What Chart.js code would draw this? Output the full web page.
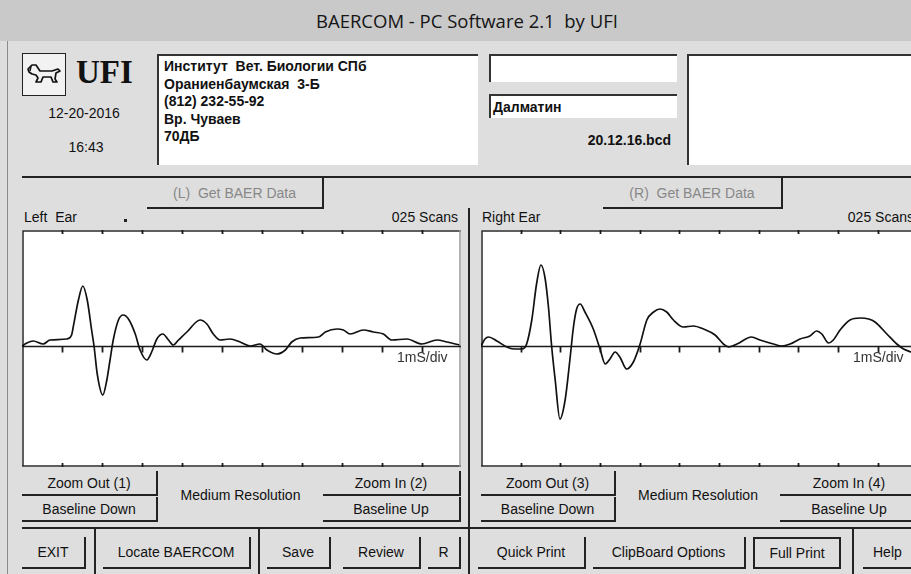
<!DOCTYPE html>
<html>
<head>
<meta charset="utf-8">
<script src="https://cdn.jsdelivr.net/npm/chart.js@4.4.1/dist/chart.umd.min.js"></script>
<style>
  body { margin: 0; width: 911px; height: 574px; overflow: hidden; position: relative;
         background: #dedede; font-family: "Liberation Sans", Arial, sans-serif; color: #111; }
  .abs { position: absolute; }
  .title { left: 0; top: 0; width: 911px; height: 41px; background: #c9c9c9; }
  .title span { position: absolute; left: 316px; top: 8px; font: 18.5px "Open Sans", sans-serif; color: #151515; white-space: nowrap; }
  .box { position: absolute; background: #fff; border-top: 2px solid #333; border-left: 2px solid #333; box-sizing: border-box; }
  .hline { position: absolute; height: 2px; background: #222; }
  .vline { position: absolute; width: 2px; background: #222; }
  .btn { position: absolute; box-sizing: border-box; border-right: 2px solid #222; border-bottom: 2px solid #222;
         display: flex; align-items: center; justify-content: center; font-size: 14px; white-space: nowrap; }
  .txt { position: absolute; font-size: 14px; white-space: nowrap; }
  .info { position: absolute; left: 164px; top: 58px; font-weight: bold; font-size: 14px; line-height: 17.5px; }
  canvas { position: absolute; }
</style>
</head>
<body>
<div class="abs title"><span>BAERCOM - PC Software 2.1&nbsp; by UFI</span></div>
<div class="vline" style="left:7px;top:41px;height:533px;width:1px;background:#8a8a8a"></div>

<!-- header -->
<div class="abs" style="left:22px;top:53px;width:42px;height:41px;border:1px solid #222;background:#f2f2f2">
  <svg width="42" height="41" viewBox="0 0 42 41">
    <path d="M5 15 L9 11 L13 11 L15 14 L17 17 L29 17 L35 15 L37 17 L33 19 L32 25 L34 28 L30 28 L28 23 L20 23 L18 28 L13 28 L15 24 L13 21 L9 20 L6 18 Z"
          fill="none" stroke="#111" stroke-width="1.7" stroke-linejoin="round"/>
    <path d="M8 12 L7 17" stroke="#111" stroke-width="1.5"/>
  </svg>
</div>
<div class="txt" style="left:76px;top:54px;font:bold 33px 'Liberation Serif',serif">UFI</div>
<div class="txt" style="left:39px;top:105px;width:90px;text-align:center">12-20-2016</div>
<div class="txt" style="left:41px;top:139px;width:90px;text-align:center">16:43</div>

<div class="box" style="left:157px;top:54px;width:321px;height:111px"></div>
<div class="info">Институт&nbsp; Вет. Биологии СПб<br>Ораниенбаумская&nbsp; 3-Б<br>(812) 232-55-92<br>Вр. Чуваев<br>70ДБ</div>

<div class="box" style="left:489px;top:54px;width:188px;height:28px"></div>
<div class="box" style="left:489px;top:94px;width:188px;height:24px"></div>
<div class="txt" style="left:493px;top:99px;font-weight:bold;font-size:14px">Далматин</div>
<div class="txt" style="left:571px;top:132px;width:100px;text-align:right;font-weight:bold;font-size:14px">20.12.16.bcd</div>
<div class="box" style="left:687px;top:54px;width:230px;height:111px"></div>

<div class="hline" style="left:22px;top:176px;width:889px"></div>

<!-- chart headers -->
<div class="btn" style="left:147px;top:178px;width:177px;height:31px;color:#888">(L)&nbsp; Get BAER Data</div>
<div class="btn" style="left:603px;top:178px;width:180px;height:31px;color:#888">(R)&nbsp; Get BAER Data</div>
<div class="vline" style="left:468px;top:208px;height:366px"></div>

<div class="txt" style="left:24px;top:209px">Left&nbsp; Ear</div>
<div class="abs" style="left:124px;top:219px;width:3px;height:3px;background:#222"></div>
<div class="txt" style="left:358px;top:209px;width:100px;text-align:right">025 Scans</div>
<div class="txt" style="left:482px;top:209px">Right Ear</div>
<div class="txt" style="left:814px;top:209px;width:100px;text-align:right">025 Scans</div>

<canvas id="leftChart" width="439" height="237" style="left:22px;top:230px;background:#fff"></canvas>
<canvas id="rightChart" width="442" height="237" style="left:481px;top:230px;background:#fff"></canvas>
<div class="txt" style="left:397px;top:349px;color:#333">1mS/div</div>
<div class="txt" style="left:853px;top:349px;color:#333">1mS/div</div>

<!-- zoom / baseline controls -->
<div class="btn" style="left:22px;top:471px;width:136px;height:25px">Zoom Out (1)</div>
<div class="btn" style="left:22px;top:497px;width:136px;height:25px">Baseline Down</div>
<div class="txt" style="left:160px;top:487px;width:161px;text-align:center">Medium Resolution</div>
<div class="btn" style="left:323px;top:471px;width:138px;height:25px">Zoom In (2)</div>
<div class="btn" style="left:323px;top:497px;width:138px;height:25px">Baseline Up</div>

<div class="btn" style="left:481px;top:471px;width:135px;height:25px">Zoom Out (3)</div>
<div class="btn" style="left:481px;top:497px;width:135px;height:25px">Baseline Down</div>
<div class="txt" style="left:618px;top:487px;width:160px;text-align:center">Medium Resolution</div>
<div class="btn" style="left:780px;top:471px;width:140px;height:25px">Zoom In (4)</div>
<div class="btn" style="left:780px;top:497px;width:140px;height:25px">Baseline Up</div>

<div class="hline" style="left:22px;top:527px;width:889px"></div>

<!-- bottom buttons -->
<div class="btn" style="left:22px;top:537px;width:64px;height:32px">EXIT</div>
<div class="vline" style="left:94px;top:528px;height:46px"></div>
<div class="btn" style="left:103px;top:537px;width:148px;height:32px">Locate BAERCOM</div>
<div class="vline" style="left:258px;top:528px;height:46px"></div>
<div class="btn" style="left:267px;top:537px;width:64px;height:32px">Save</div>
<div class="btn" style="left:343px;top:537px;width:78px;height:32px">Review</div>
<div class="btn" style="left:428px;top:537px;width:33px;height:32px">R</div>
<div class="btn" style="left:478px;top:537px;width:108px;height:32px">Quick Print</div>
<div class="btn" style="left:593px;top:537px;width:153px;height:32px">ClipBoard Options</div>
<div class="btn" style="left:753px;top:537px;width:88px;height:32px;border:2px solid #222">Full Print</div>
<div class="vline" style="left:852px;top:528px;height:46px"></div>
<div class="btn" style="left:863px;top:537px;width:60px;height:32px;justify-content:flex-start;padding-left:10px">Help</div>

<script>
// time in ms, amplitude relative to baseline (screen units)
const leftTime = [0, 0.12, 0.28, 0.53, 0.70, 1.12, 1.24, 1.28, 1.41, 1.52, 1.63, 1.74, 1.80, 1.88, 2.02,
  2.12, 2.20, 2.28, 2.41, 2.53, 2.66, 2.83, 2.95, 3.12, 3.24, 3.37, 3.52, 3.66, 3.78, 3.91, 4.12, 4.45,
  4.62, 4.78, 4.95, 5.20, 5.45, 5.70, 5.95, 6.12, 6.37, 6.58, 6.74, 6.95, 7.41, 7.58, 7.87, 8.03, 8.20,
  8.53, 8.78, 9.03, 9.24, 9.62, 9.99, 10.37, 10.62, 10.93];
const leftAmp = [0, 3, 5, 2, 6, 7, 11, 19, 46, 60, 46, 16, 0, -28, -49,
  -34, -14, 6, 26, 31, 27, 12, -4, -14, -6, 7, 12, 6, 1, 6, 14, 26,
  22, 12, 6, 7, 4, 0, 2, -4, -8, -4, 4, 8, 9, 14, 17, 16, 12,
  16, 14, 12, 6, 7, 2, 6, 4, 1];

const rightTime = [0, 0.10, 0.19, 0.40, 0.65, 0.82, 1.03, 1.15, 1.28, 1.40, 1.51, 1.61, 1.70, 1.78, 1.87,
  1.99, 2.12, 2.24, 2.33, 2.41, 2.50, 2.62, 2.83, 3.00, 3.13, 3.25, 3.38, 3.50, 3.67, 3.84, 4.01, 4.18,
  4.35, 4.51, 4.68, 4.85, 5.10, 5.35, 5.61, 5.90, 6.11, 6.24, 6.45, 6.82, 7.03, 7.37, 7.58, 7.79, 8.04,
  8.29, 8.46, 8.59, 8.76, 8.88, 9.05, 9.30, 9.56, 9.77, 9.93, 10.23, 10.48, 10.65, 10.84, 11.14];
const rightAmp = [0, 7, 9, 5, -1, -3, -3, 2, 26, 62, 81, 69, 39, 0, -34,
  -73, -54, -14, 19, 37, 42, 34, 17, -3, -18, -13, -6, -11, -23, -16, 2, 26,
  34, 37, 34, 26, 19, 20, 17, 11, 2, -1, 2, 9, 6, 2, 0, 2, 7,
  10, 15, 12, 3, 6, 16, 26, 28, 27, 24, 12, 2, -3, -6, -12];

const xTicks = [1, 2, 3, 4, 5, 6, 7, 8, 9, 10];

// box, inward ticks and the baseline with its 1 mS marks
const framePlugin = {
  id: "frame",
  beforeDatasetsDraw(chart, args, opts) {
    const { ctx, chartArea: a, scales: { x, y } } = chart;
    ctx.save();
    ctx.lineWidth = 1.5;
    ctx.strokeStyle = "#2a2a2a";
    ctx.beginPath();
    ctx.moveTo(a.left + 1, a.bottom - 1);
    ctx.lineTo(a.left + 1, a.top + 1);
    ctx.lineTo(a.right, a.top + 1);
    ctx.moveTo(a.left, a.bottom - 1);
    ctx.lineTo(a.right, a.bottom - 1);
    ctx.stroke();
    if (opts.rightEdge) {
      ctx.strokeStyle = "#9a9a9a";
      ctx.beginPath();
      ctx.moveTo(a.right - 1, a.top);
      ctx.lineTo(a.right - 1, a.bottom);
      ctx.stroke();
    }
    const y0 = Math.round(y.getPixelForValue(0)) + 0.5;
    ctx.strokeStyle = "#1a1a1a";
    ctx.lineWidth = 1.5;
    ctx.beginPath();
    ctx.moveTo(a.left, y0);
    ctx.lineTo(a.right, y0);
    ctx.stroke();
    ctx.lineWidth = 1.8;
    ctx.beginPath();
    xTicks.forEach((t) => {
      const px = Math.round(x.getPixelForValue(t)) + 0.5;
      ctx.moveTo(px, a.top);
      ctx.lineTo(px, a.top + 4);
      ctx.moveTo(px, a.bottom - 4);
      ctx.lineTo(px, a.bottom);
      ctx.moveTo(px, y0);
      ctx.lineTo(px, y0 + 6);
    });
    ctx.stroke();
    ctx.restore();
  },
};

function makeChart(id, times, amps, xMax, rightEdge) {
  return new Chart(document.getElementById(id), {
    type: "line",
    data: {
      datasets: [
        {
          data: times.map((t, i) => ({ x: t, y: amps[i] })),
          borderColor: "#111",
          borderWidth: 1.7,
          pointRadius: 0,
          cubicInterpolationMode: "monotone",
          fill: false,
        },
      ],
    },
    options: {
      responsive: false,
      animation: false,
      layout: { padding: 0 },
      scales: {
        x: { type: "linear", min: 0, max: xMax, display: false },
        y: { min: -121, max: 116, display: false },
      },
      plugins: {
        legend: { display: false },
        tooltip: { enabled: false },
        frame: { rightEdge: rightEdge },
      },
    },
    plugins: [framePlugin],
  });
}

makeChart("leftChart", leftTime, leftAmp, 10.97, true);
makeChart("rightChart", rightTime, rightAmp, 11.14, false);
</script>
</body>
</html>
